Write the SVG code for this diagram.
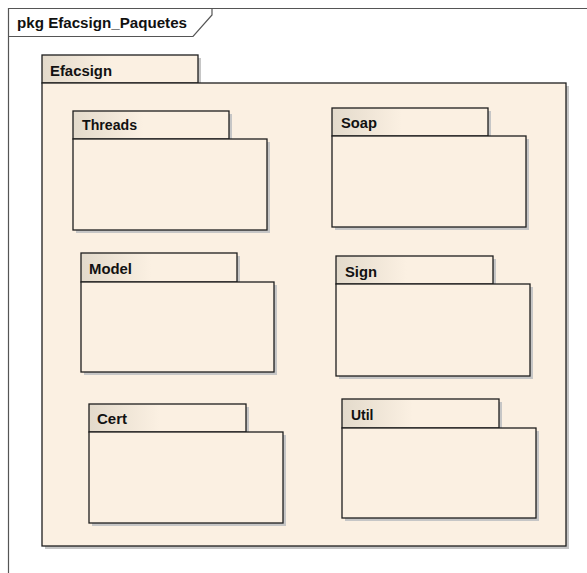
<svg xmlns="http://www.w3.org/2000/svg" width="587" height="573" viewBox="0 0 587 573">
<defs>
<linearGradient id="tabGrad" x1="0" y1="0" x2="1" y2="0">
<stop offset="0" stop-color="#E3DACB"/>
<stop offset="0.45" stop-color="#FBF0E2"/>
<stop offset="1" stop-color="#FBF0E2"/>
</linearGradient>
<style>
.shadow{fill:#C6C6C6;stroke:none}
.tab{fill:url(#tabGrad);stroke:#1E1E1E;stroke-width:1.3}
.body{fill:#FBF0E2;stroke:#1E1E1E;stroke-width:1.3}
.lbl{font-family:"Liberation Sans",Arial,sans-serif;font-weight:bold;font-size:14px;fill:#111}
.frame{fill:none;stroke:#555;stroke-width:1.2}
</style>
</defs>
<rect width="587" height="573" fill="#fff"/>
<g id="frame">
<path class="frame" d="M8.5 600 V8.5 H600"/>
<path class="frame" d="M8.5 36.5 H193 L212 15 V8.5"/>
<text class="lbl" x="17" y="27.5" font-size="13.5" textLength="170" lengthAdjust="spacingAndGlyphs">pkg Efacsign_Paquetes</text>
</g>
<g id="Efacsign">
<rect class="shadow" x="45" y="58" width="156" height="28"/>
<rect class="shadow" x="45" y="86" width="524" height="463"/>
<rect class="tab" x="42" y="55" width="156" height="28"/>
<rect class="body" x="42" y="83" width="524" height="463"/>
<text class="lbl" x="50" y="75.5" textLength="62" lengthAdjust="spacingAndGlyphs">Efacsign</text>
</g>
<g id="Threads">
<rect class="shadow" x="76" y="114" width="156" height="28"/>
<rect class="shadow" x="76" y="142" width="194" height="91"/>
<rect class="tab" x="73" y="111" width="156" height="28"/>
<rect class="body" x="73" y="139" width="194" height="91"/>
<text class="lbl" x="82" y="129.5" textLength="55" lengthAdjust="spacingAndGlyphs">Threads</text>
</g>
<g id="Soap">
<rect class="shadow" x="335" y="111" width="156" height="28"/>
<rect class="shadow" x="335" y="139" width="194" height="91"/>
<rect class="tab" x="332" y="108" width="156" height="28"/>
<rect class="body" x="332" y="136" width="194" height="91"/>
<text class="lbl" x="341" y="127.5" textLength="36" lengthAdjust="spacingAndGlyphs">Soap</text>
</g>
<g id="Model">
<rect class="shadow" x="84" y="256" width="156" height="29"/>
<rect class="shadow" x="84" y="285" width="193" height="90"/>
<rect class="tab" x="81" y="253" width="156" height="29"/>
<rect class="body" x="81" y="282" width="193" height="90"/>
<text class="lbl" x="89" y="274" textLength="43" lengthAdjust="spacingAndGlyphs">Model</text>
</g>
<g id="Sign">
<rect class="shadow" x="339" y="259" width="157" height="28"/>
<rect class="shadow" x="339" y="287" width="194" height="92"/>
<rect class="tab" x="336" y="256" width="157" height="28"/>
<rect class="body" x="336" y="284" width="194" height="92"/>
<text class="lbl" x="345" y="277" textLength="32" lengthAdjust="spacingAndGlyphs">Sign</text>
</g>
<g id="Cert">
<rect class="shadow" x="92" y="407" width="157" height="28"/>
<rect class="shadow" x="92" y="435" width="194" height="91"/>
<rect class="tab" x="89" y="404" width="157" height="28"/>
<rect class="body" x="89" y="432" width="194" height="91"/>
<text class="lbl" x="97" y="424" textLength="30" lengthAdjust="spacingAndGlyphs">Cert</text>
</g>
<g id="Util">
<rect class="shadow" x="345" y="402" width="157" height="29"/>
<rect class="shadow" x="345" y="431" width="194" height="90"/>
<rect class="tab" x="342" y="399" width="157" height="29"/>
<rect class="body" x="342" y="428" width="194" height="90"/>
<text class="lbl" x="351" y="419.5" textLength="22.5" lengthAdjust="spacingAndGlyphs">Util</text>
</g>
<g id="connectors"/>
</svg>
